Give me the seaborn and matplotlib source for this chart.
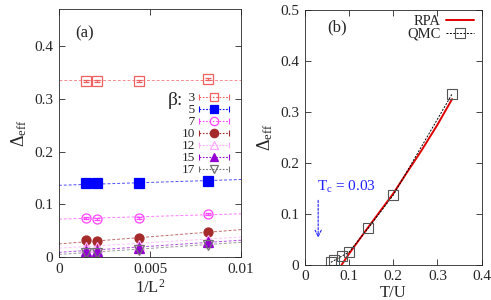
import numpy as np
import pandas as pd
import matplotlib
matplotlib.use("Agg")
import matplotlib.pyplot as plt
from matplotlib.lines import Line2D
from matplotlib.legend_handler import HandlerBase
import seaborn as sns

## DATA ##
invL2 = [0.0015, 0.0021, 0.0044, 0.0082]
betas = ["3", "5", "7", "10", "12", "15", "17"]
delta_b3 = [0.333, 0.333, 0.334, 0.337]
delta_b5 = [0.140, 0.140, 0.140, 0.145]
delta_b7 = [0.074, 0.073, 0.074, 0.082]
delta_b10 = [0.033, 0.031, 0.036, 0.047]
delta_b12 = [0.020, 0.019, 0.022, 0.033]
delta_b15 = [0.012, 0.012, 0.017, 0.028]
delta_b17 = [0.007, 0.007, 0.013, 0.022]
delta_err = [0.002, 0.002, 0.002, 0.002]
# linear fits Delta = a + b / L^2
fit_a = [0.335, 0.136, 0.072, 0.025, 0.017, 0.009, 0.005]
fit_b = [0.0, 1.1, 1.0, 2.7, 2.1, 2.3, 2.3]
fit_x = [0.0, 0.01]

qmc_T = [0.333, 0.2, 0.143, 0.1, 0.083, 0.0667, 0.0588]
qmc_delta = [0.335, 0.137, 0.072, 0.025, 0.017, 0.009, 0.005]
rpa_T = [0.083, 0.1, 0.12, 0.14, 0.17, 0.2, 0.23, 0.265, 0.3, 0.333]
rpa_delta = [0.0, 0.022, 0.046, 0.070, 0.105, 0.140, 0.180, 0.226, 0.275, 0.325]

all_delta = [delta_b3, delta_b5, delta_b7, delta_b10, delta_b12, delta_b15, delta_b17]
colors = ["#f06060", "#0000ff", "#ff44ff", "#a52a2a", "#ffaaff", "#9400d3", "#707070"]
markers = ["s", "s", "o", "o", "^", "^", "v"]
filled = [False, True, False, True, False, True, False]


##gnuplot-like legend key: |----marker----|##
class ErrKey(HandlerBase):
    def create_artists(self, legend, orig, xd, yd, w, h, fs, trans):
        c = orig.get_color()
        y = h / 2 - yd
        x0, x1 = -xd, -xd + w
        line = Line2D([x0, x1], [y, y], color=c, lw=0.8, ls=(0, (1.5, 1.5)), transform=trans)
        caps = Line2D([x0, x1], [y, y], color=c, lw=0, marker="|", ms=5, mew=0.8, transform=trans)
        mk = Line2D([(x0 + x1) / 2], [y], color=c, lw=0, marker=orig.get_marker(),
                    ms=orig.get_markersize(), mfc=orig.get_markerfacecolor(),
                    mec=orig.get_markeredgecolor(), mew=orig.get_markeredgewidth(), transform=trans)
        return [line, caps, mk]


sns.set_style("ticks")
plt.rcParams['font.family'] = ['Liberation Serif', 'DejaVu Serif']
plt.rcParams['mathtext.fontset'] = 'custom'
plt.rcParams['mathtext.rm'] = 'Liberation Serif'
plt.rcParams['mathtext.it'] = 'Liberation Serif:italic'
plt.rcParams['font.size'] = 11

fig = plt.figure(figsize=(4.91, 3.0), dpi=100)
ax1 = fig.add_axes([0.120, 0.143, 0.371, 0.827])
ax2 = fig.add_axes([0.621, 0.117, 0.360, 0.850])

##Panel (a)##
keys = []
for i, b in enumerate(betas):
    fx = np.array(fit_x)
    ax1.plot(fx, fit_a[i] + fit_b[i] * fx, ls=(0, (3, 2)), lw=0.7, color=colors[i], alpha=0.7)
    ax1.errorbar(invL2, all_delta[i], yerr=delta_err, fmt=markers[i], lw=0.0,
                 ms=6.5, mew=0.9, color=colors[i],
                 mfc=colors[i] if filled[i] else "none", mec=colors[i],
                 ecolor=colors[i], elinewidth=0.8, capsize=2.5)
    keys.append(Line2D([], [], color=colors[i], marker=markers[i], ms=6, mew=0.9,
                       mfc=colors[i] if filled[i] else "none", mec=colors[i]))

labels = [("\u2007" + b) if len(b) == 1 else b for b in betas]
leg = ax1.legend(keys, labels, handler_map={Line2D: ErrKey()}, loc="upper right",
                 bbox_to_anchor=(0.96, 0.685), frameon=False, markerfirst=False, fontsize=9.5,
                 handlelength=2.2, handleheight=0.6, labelspacing=0.0, handletextpad=0.35,
                 borderaxespad=0.0)
ax1.text(0.595, 0.632, "β:", transform=ax1.transAxes, fontsize=14, ha="left", va="center")
ax1.text(0.09, 0.90, "(a)", transform=ax1.transAxes, fontsize=12, ha="left", va="center")

ax1.set_xlim(0, 0.01)
ax1.set_ylim(0, 0.47)
ax1.set_xticks([0, 0.005, 0.01])
ax1.set_xticklabels(["0", "0.005", "0.01"])
ax1.set_yticks([0, 0.1, 0.2, 0.3, 0.4])
ax1.set_yticklabels(["0", "0.1", "0.2", "0.3", "0.4"])
ax1.set_xlabel("1/L$^2$", fontsize=12, labelpad=2)
ax1.set_ylabel(r"$\Delta_{\rm eff}$", fontsize=13)

##Panel (b)##
rpa = pd.DataFrame({"T": rpa_T, "D": rpa_delta})
qmc = pd.DataFrame({"T": qmc_T, "D": qmc_delta})
sns.lineplot(data=rpa, x="T", y="D", ax=ax2, color="#e00000", lw=1.4, label="RPA", sort=True)
sns.lineplot(data=qmc, x="T", y="D", ax=ax2, color="black", lw=0.7, ls=(0, (2, 1.5)),
             marker="s", ms=7, mfc="none", mec="#555555", mew=0.8, label="QMC", sort=True)
ax2.legend(loc="upper right", bbox_to_anchor=(0.99, 1.005), frameon=False, markerfirst=False,
           fontsize=10.5, handlelength=1.9, labelspacing=0.0, handletextpad=0.4, borderaxespad=0.0)
ax2.text(0.125, 0.93, "(b)", transform=ax2.transAxes, fontsize=12, ha="left", va="center")
ax2.text(0.028, 0.153, "T$_{\\rm c}$ = 0.03", color="#2020ff", fontsize=11, ha="left", va="center")
ax2.annotate("", xy=(0.03, 0.048), xytext=(0.03, 0.132),
             arrowprops=dict(arrowstyle="->", color="#2020ff", lw=0.8, ls=(0, (2, 1.5))))

ax2.set_xlim(0, 0.4)
ax2.set_ylim(0, 0.5)
ax2.set_xticks([0, 0.1, 0.2, 0.3, 0.4])
ax2.set_xticklabels(["0", "0.1", "0.2", "0.3", "0.4"])
ax2.set_yticks([0, 0.1, 0.2, 0.3, 0.4, 0.5])
ax2.set_yticklabels(["0", "0.1", "0.2", "0.3", "0.4", "0.5"])
ax2.set_xlabel("T/U", fontsize=12, labelpad=1)
ax2.set_ylabel(r"$\Delta_{\rm eff}$", fontsize=13)

for ax in (ax1, ax2):
    ax.tick_params(direction="in", top=True, right=True, length=4, width=0.6, labelsize=11, pad=4)
    for s in ax.spines.values():
        s.set_linewidth(0.6)

fig.savefig("out.png", dpi=100)
